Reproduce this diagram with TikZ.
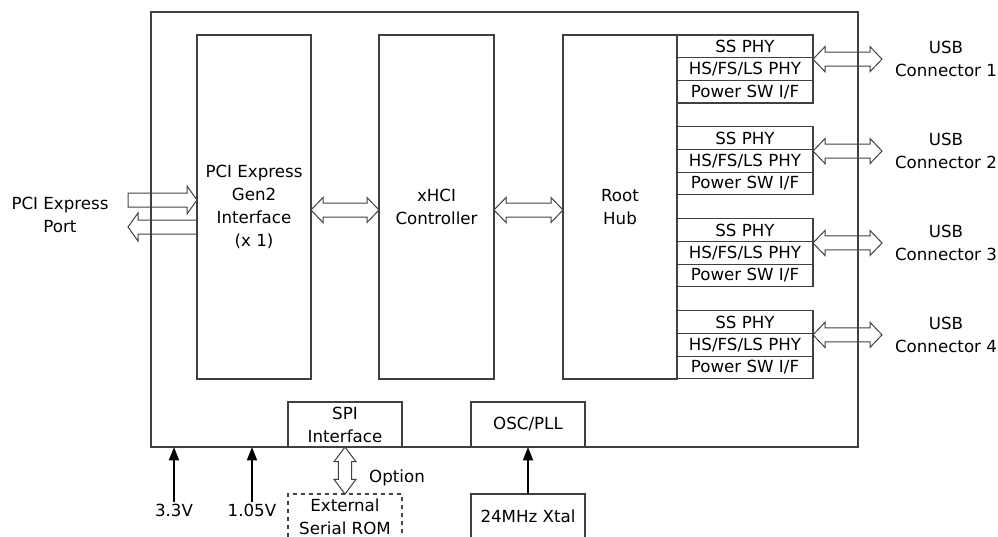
\documentclass[tikz,border=0pt]{standalone}
\usepackage{fontspec}
\setmainfont{DejaVu Sans}
\usetikzlibrary{calc,arrows.meta}
\tikzset{
 box/.style={draw=black!75, line width=0.8pt, inner sep=0pt, outer sep=0pt, anchor=north west, align=center, font=\fontsize{12.5}{17.25}\selectfont},
 row/.style={box, minimum width=102pt, minimum height=17pt},
 fat/.style={draw=black!75, line width=0.75pt, line join=miter},
 lbl/.style={inner sep=1pt, align=center, font=\fontsize{12.5}{17.25}\selectfont},
 pwr/.style={line width=1.3pt, -{Triangle[length=10pt,width=7.5pt]}},
}
\newcommand\fatdbl[2]{\draw[fat] let \p1=(#1),\p2=(#2) in
 (\x1,\y1) -- (\x1+9pt,\y1+9.4pt) -- (\x1+9pt,\y1+5.25pt) -- (\x2-9pt,\y1+5.25pt) -- (\x2-9pt,\y1+9.4pt) -- (\x2,\y1) -- (\x2-9pt,\y1-9.4pt) -- (\x2-9pt,\y1-5.25pt) -- (\x1+9pt,\y1-5.25pt) -- (\x1+9pt,\y1-9.4pt) -- cycle;}
\newcommand\fatdblv[2]{\draw[fat] let \p1=(#1),\p2=(#2) in
 (\x1,\y1) -- (\x1+8.25pt,\y1-11pt) -- (\x1+5pt,\y1-11pt) -- (\x1+5pt,\y2+11pt) -- (\x1+8.25pt,\y2+11pt) -- (\x1,\y2) -- (\x1-8.25pt,\y2+11pt) -- (\x1-5pt,\y2+11pt) -- (\x1-5pt,\y1-11pt) -- (\x1-8.25pt,\y1-11pt) -- cycle;}
\newcommand\fatone[3]{\draw[fat] let \p1=(#1),\p2=(#2),\n1={#3} in
 (\x1,\y1+5.25pt) -- (\x2-\n1*7.5pt,\y1+5.25pt) -- (\x2-\n1*7.5pt,\y1+10.5pt) -- (\x2,\y1) -- (\x2-\n1*7.5pt,\y1-10.5pt) -- (\x2-\n1*7.5pt,\y1-5.25pt) -- (\x1,\y1-5.25pt) -- cycle;}
\begin{document}
\begin{tikzpicture}[x=0.75pt,y=-0.75pt]
\useasboundingbox (0,0) rectangle (998,536);
\clip (0,0) rectangle (998,536);
% chip outline
\node[box, minimum width=530.25pt, minimum height=326.25pt] (chip) at (151,12) {};
% main blocks
\node[box, minimum width=85.5pt, minimum height=258pt] (pci) at (197,35) {PCI Express\\Gen2\\Interface\\(x 1)};
\node[box, minimum width=86.25pt, minimum height=258pt] (xhci) at (379,35) {xHCI\\Controller};
\node[box, minimum width=85.5pt, minimum height=258pt] (hub) at (563,35) {Root\\Hub};
% PHY groups and USB connectors
\foreach \i in {1,...,4}{
  \pgfmathsetmacro\yt{35+91.9*(\i-1)}
  \node[row] (ss\i) at (677,\yt) {SS PHY};
  \node[row] (hs\i) at (ss\i.south west) {HS/FS/LS PHY};
  \node[row] (pw\i) at (hs\i.south west) {Power SW I/F};
  \coordinate (usbs\i) at ($(hs\i.north east)+(0,1.5)$);
  \coordinate (usbe\i) at ($(usbs\i)+(69,0)$);
  \node[lbl] (usb\i) at ($(usbs\i)+(133,0)$) {USB\\Connector \i};
  \fatdbl{usbs\i}{usbe\i}
}
% inter-block arrows
\coordinate (lvl) at (0,210);
\fatdbl{pci.east |- lvl}{xhci.west |- lvl}
\fatdbl{xhci.east |- lvl}{hub.west |- lvl}
% PCI Express port
\node[lbl] (port) at (60,215) {PCI Express\\Port};
\coordinate (pa) at (128,200);
\coordinate (pb) at (128,227);
\fatone{pa}{pci.west |- pa}{1}
\fatone{pci.west |- pb}{pb}{-1}
% bottom blocks
\node[box, minimum width=85.5pt, minimum height=33.75pt] (spi) at (288,402) {SPI\\Interface};
\node[box, minimum width=85.5pt, minimum height=33.75pt] (osc) at (471,402) {OSC/PLL};
\node[box, dashed, minimum width=85.5pt, minimum height=33.75pt] (rom) at (288,494) {External\\Serial ROM};
\node[box, minimum width=85.5pt, minimum height=33.75pt] (xtal) at (471,494) {24MHz Xtal};
\fatdblv{spi.south}{rom.north}
\node[lbl] (opt) at (397,478) {Option};
\draw[pwr] (xtal.north) -- (osc.south);
% power
\node[lbl] (v33) at (174,510) {3.3V};
\node[lbl] (v105) at (252,510) {1.05V};
\draw[pwr] (v33.north) -- (v33.north |- chip.south);
\draw[pwr] (v105.north) -- (v105.north |- chip.south);
\end{tikzpicture}
\end{document}
